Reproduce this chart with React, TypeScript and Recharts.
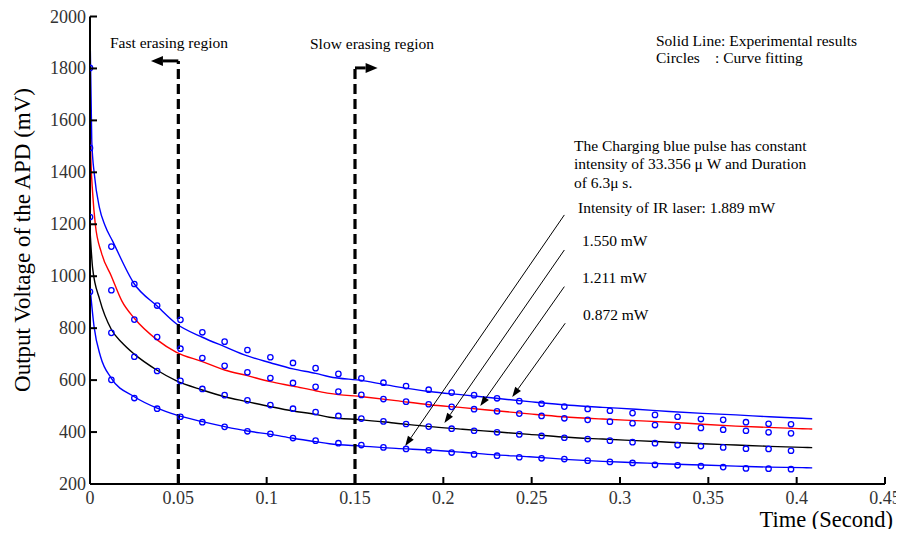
import React from "react";
import {
  ComposedChart,
  Line,
  Scatter,
  XAxis,
  YAxis,
  ReferenceLine,
} from "recharts";

// axis ticks
const xTicks = [0, 0.05, 0.1, 0.15, 0.2, 0.25, 0.3, 0.35, 0.4, 0.45];
const yTicks = [200, 400, 600, 800, 1000, 1200, 1400, 1600, 1800, 2000];

// curve fitting (circles), same time grid for all four
const fitTimes = [
  0, 0.0121, 0.0251, 0.038, 0.0512, 0.0636, 0.0762, 0.0891, 0.1021, 0.1149,
  0.1277, 0.1406, 0.1536, 0.1661, 0.1789, 0.1917, 0.2047, 0.2174, 0.2304,
  0.243, 0.2556, 0.2685, 0.2817, 0.2943, 0.3071, 0.3198, 0.3326, 0.3458,
  0.3584, 0.3713, 0.3841, 0.3968,
];
const fit0872 = [
  1802, 1114, 970, 887, 832, 784, 748, 716, 688, 666, 646, 624, 607, 590, 577,
  563, 552, 542, 530, 519, 509, 498, 489, 482, 473, 466, 459, 450, 447, 438,
  432, 430,
];
const fit1211 = [
  1494, 946, 833, 766, 721, 685, 655, 630, 608, 589, 574, 556, 543, 527, 517,
  507, 497, 488, 480, 471, 462, 453, 447, 440, 434, 427, 421, 416, 409, 405,
  399, 395,
];
const fit1550 = [
  1228, 782, 690, 635, 597, 566, 542, 522, 504, 490, 477, 462, 452, 441, 431,
  421, 413, 405, 399, 391, 385, 378, 373, 367, 361, 357, 350, 346, 341, 336,
  335, 328,
];
const fit1889 = [
  940, 601, 531, 490, 459, 438, 420, 403, 393, 377, 367, 357, 350, 341, 335,
  330, 321, 314, 309, 303, 299, 296, 290, 285, 281, 274, 272, 269, 265, 260,
  259, 257,
];

// experimental results (solid lines), [time, mV]
const exp0872: [number, number][] = [
  [0, 1950], [0.001, 1520], [0.0025, 1390], [0.0053, 1265], [0.0085, 1195],
  [0.0128, 1135], [0.0251, 970], [0.038, 885], [0.0487, 818], [0.0636, 765],
  [0.0762, 729], [0.0891, 693], [0.1021, 667], [0.1149, 643], [0.1277, 626],
  [0.1355, 613], [0.1543, 598], [0.1732, 575], [0.1921, 556], [0.2109, 543],
  [0.2298, 530], [0.2487, 517], [0.2713, 503], [0.2902, 495], [0.3091, 488],
  [0.3279, 479], [0.3467, 472], [0.3656, 466], [0.3845, 459], [0.4033, 453],
  [0.4088, 451],
];
const exp1211: [number, number][] = [
  [0, 1590], [0.0005, 1450], [0.0015, 1320], [0.003, 1200], [0.0065, 1090],
  [0.0121, 1000], [0.018, 905], [0.0251, 838], [0.038, 755], [0.0487, 708],
  [0.0636, 671], [0.0762, 639], [0.0891, 617], [0.1021, 594], [0.1149, 577],
  [0.1277, 559], [0.1355, 549], [0.1543, 536], [0.1732, 521], [0.1921, 505],
  [0.2109, 494], [0.2298, 482], [0.2487, 470], [0.2675, 459], [0.2902, 450],
  [0.3091, 444], [0.3279, 438], [0.3467, 430], [0.3656, 423], [0.3845, 418],
  [0.4033, 413], [0.4088, 412],
];
const exp1550: [number, number][] = [
  [0, 1180], [0.0015, 1030], [0.0055, 910], [0.0121, 795], [0.018, 745],
  [0.0251, 700], [0.038, 638], [0.0487, 598], [0.0636, 562], [0.0762, 536],
  [0.0891, 517], [0.1021, 498], [0.1149, 481], [0.1277, 468], [0.1355, 457],
  [0.1543, 447], [0.1732, 434], [0.1921, 421], [0.2109, 411], [0.2298, 401],
  [0.2487, 391], [0.2675, 381], [0.2902, 373], [0.3091, 367], [0.3279, 361],
  [0.3467, 355], [0.3656, 350], [0.3845, 345], [0.4033, 341], [0.4088, 340],
];
const exp1889: [number, number][] = [
  [0, 960], [0.0023, 806], [0.006, 690], [0.0121, 607], [0.0251, 536],
  [0.038, 492], [0.0487, 466], [0.0636, 440], [0.0762, 421], [0.0891, 404],
  [0.1021, 391], [0.1149, 376], [0.1277, 363], [0.1355, 355], [0.1543, 346],
  [0.1732, 337], [0.1921, 331], [0.2109, 322], [0.2298, 312], [0.2487, 305],
  [0.2713, 294], [0.2902, 287], [0.3091, 282], [0.3279, 277], [0.3467, 273],
  [0.3656, 269], [0.3845, 265], [0.4033, 263], [0.4088, 262],
];

// annotation arrows in data units: [fromX, fromY, toX, toY]
const laserArrows: [number, number, number, number][] = [
  [0.2685, 1236, 0.1784, 346],
  [0.2685, 1101, 0.2006, 435],
  [0.2685, 960, 0.2209, 500],
  [0.269, 819, 0.239, 535],
];

const SERIF = '"Liberation Serif", "Times New Roman", Times, serif';
const BLUE = "#0000ff";

const toPts = (pairs: [number, number][]) => pairs.map(([x, y]) => ({ x, y }));
const toFit = (vals: number[]) => fitTimes.map((x, i) => ({ x, y: vals[i] }));

function XTick(props: any) {
  const { x, y, payload } = props;
  const v = payload.value;
  return (
    <g>
      {v !== 0 && (
        <line x1={x} y1={y} x2={x} y2={y - 7} stroke="#000" strokeWidth={2} />
      )}
      <text
        x={x}
        y={y + 20}
        textAnchor="middle"
        fontSize={18}
        fontFamily={SERIF}
        fill="#333"
      >
        {v}
      </text>
    </g>
  );
}

function YTick(props: any) {
  const { x, y, payload } = props;
  return (
    <g>
      <line x1={x} y1={y} x2={x + 7} y2={y} stroke="#000" strokeWidth={2} />
      <text
        x={x - 4}
        y={y + 6}
        textAnchor="end"
        fontSize={18}
        fontFamily={SERIF}
        fill="#333"
      >
        {payload.value}
      </text>
    </g>
  );
}

function arrowShape(headLen: number, headHalf: number, width: number) {
  return (p: any) => {
    const { x1, y1, x2, y2 } = p;
    const dx = x2 - x1;
    const dy = y2 - y1;
    const len = Math.hypot(dx, dy) || 1;
    const ux = dx / len;
    const uy = dy / len;
    const bx = x2 - ux * headLen;
    const by = y2 - uy * headLen;
    const px = -uy * headHalf;
    const py = ux * headHalf;
    return (
      <g>
        <line x1={x1} y1={y1} x2={bx} y2={by} stroke="#000" strokeWidth={width} />
        <polygon
          points={`${x2},${y2} ${bx + px},${by + py} ${bx - px},${by - py}`}
          fill="#000"
        />
      </g>
    );
  };
}

const circleShape = (p: any) => (
  <circle cx={p.cx} cy={p.cy} r={2.7} fill="none" stroke={BLUE} strokeWidth={1.3} />
);

const txt = { fontFamily: SERIF, fontSize: 15.5, fill: "#000" };

export default function App() {
  const lines = [
    { key: "e0872", data: toPts(exp0872), color: BLUE },
    { key: "e1211", data: toPts(exp1211), color: "#ff0000" },
    { key: "e1550", data: toPts(exp1550), color: "#000000" },
    { key: "e1889", data: toPts(exp1889), color: BLUE },
  ];
  const fits = [fit0872, fit1211, fit1550, fit1889];

  return (
    <div
      style={{
        position: "relative",
        width: 904,
        height: 537,
        margin: -8,
        background: "#fff",
      }}
    >
      <ComposedChart
        width={904}
        height={537}
        margin={{ top: 16.5, right: 19, bottom: 0, left: 0 }}
      >
        <XAxis
          type="number"
          dataKey="x"
          domain={[0, 0.45]}
          ticks={xTicks}
          interval={0}
          tickSize={0}
          tickMargin={0}
          height={53}
          tickLine={false}
          axisLine={{ stroke: "#000", strokeWidth: 2 }}
          tick={XTick}
          allowDataOverflow
        />
        <YAxis
          type="number"
          dataKey="y"
          domain={[200, 2000]}
          ticks={yTicks}
          interval={0}
          tickSize={0}
          tickMargin={0}
          width={90}
          tickLine={false}
          axisLine={{ stroke: "#000", strokeWidth: 2 }}
          tick={YTick}
          allowDataOverflow
        />

        {lines.map((l) => (
          <Line
            key={l.key}
            data={l.data}
            dataKey="y"
            type="monotone"
            stroke={l.color}
            strokeWidth={1.4}
            dot={false}
            activeDot={false}
            isAnimationActive={false}
          />
        ))}

        {fits.map((f, i) => (
          <Scatter
            key={`fit-${i}`}
            data={toFit(f)}
            dataKey="y"
            shape={circleShape}
            isAnimationActive={false}
          />
        ))}

        {/* region boundaries */}
        <ReferenceLine
          segment={[{ x: 0.05, y: 200 }, { x: 0.05, y: 1829 }]}
          stroke="#000"
          strokeWidth={3.2}
          strokeDasharray="10 5"
          ifOverflow="visible"
        />
        <ReferenceLine
          segment={[{ x: 0.15, y: 200 }, { x: 0.15, y: 1802 }]}
          stroke="#000"
          strokeWidth={3.2}
          strokeDasharray="10 5"
          ifOverflow="visible"
        />
        <ReferenceLine
          segment={[{ x: 0.05, y: 1829 }, { x: 0.0345, y: 1829 }]}
          shape={arrowShape(12, 5, 3)}
          ifOverflow="visible"
        />
        <ReferenceLine
          segment={[{ x: 0.15, y: 1802 }, { x: 0.1628, y: 1802 }]}
          shape={arrowShape(12, 5, 3)}
          ifOverflow="visible"
        />

        {laserArrows.map(([x1, y1, x2, y2], i) => (
          <ReferenceLine
            key={`arrow-${i}`}
            segment={[{ x: x1, y: y1 }, { x: x2, y: y2 }]}
            shape={arrowShape(10, 3.5, 1)}
            ifOverflow="visible"
          />
        ))}
      </ComposedChart>

      <svg
        width={904}
        height={537}
        style={{ position: "absolute", left: 0, top: 0, pointerEvents: "none" }}
      >
        <text
          x={30}
          y={240}
          transform="rotate(-90 30 240)"
          textAnchor="middle"
          fontFamily={SERIF}
          fontSize={23}
        >
          Output Voltage of the APD (mV)
        </text>
        <text x={893} y={527} textAnchor="end" fontFamily={SERIF} fontSize={22.5}>
          Time (Second)
        </text>

        <text x={110} y={48} {...txt}>Fast erasing region</text>
        <text x={310} y={49} {...txt}>Slow erasing region</text>

        <text x={656} y={46} {...txt}>Solid Line: Experimental results</text>
        <text x={656} y={63} {...txt}>Circles</text>
        <text x={715} y={63} {...txt}>: Curve fitting</text>

        <text x={574} y={151} {...txt}>The Charging blue pulse has constant</text>
        <text x={574} y={169} {...txt}>intensity of 33.356 μ W and Duration</text>
        <text x={574} y={188} {...txt}>of 6.3μ s.</text>

        <text x={578} y={213} {...txt}>Intensity of IR laser: 1.889 mW</text>
        <text x={582} y={246} {...txt}>1.550 mW</text>
        <text x={582} y={283} {...txt}>1.211 mW</text>
        <text x={583} y={320} {...txt}>0.872 mW</text>
      </svg>
    </div>
  );
}
